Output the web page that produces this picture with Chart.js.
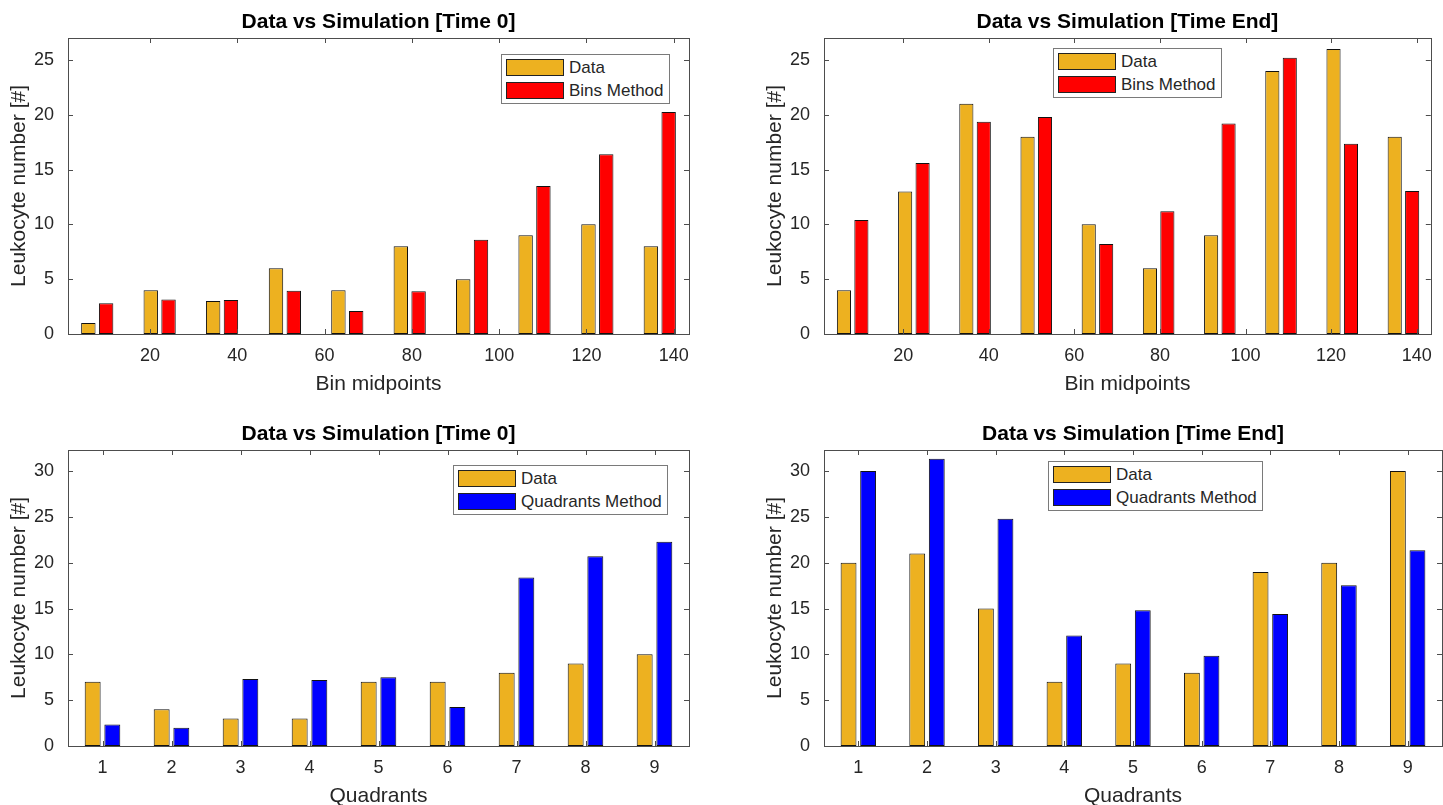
<!DOCTYPE html>
<html>
<head>
<meta charset="utf-8">
<title>Data vs Simulation</title>
<script src="https://cdn.jsdelivr.net/npm/chart.js@4.4.1/dist/chart.umd.min.js"></script>
<style>
  html, body { margin: 0; padding: 0; background: #fff; overflow: hidden; }
  #page { position: relative; width: 1443px; height: 805px; overflow: hidden; }
  canvas { position: absolute; }
  .legend { position: absolute; background: #fff; border: 1px solid #7a7a7a; padding: 4px 5px 4px 4px;
            font: 17px 'Liberation Sans', Arial, sans-serif; color: #262626; }
  .legend .row { display: flex; align-items: center; height: 17px; white-space: nowrap; }
  .legend .row + .row { margin-top: 6px; }
  .legend .swatch { width: 58px; height: 17px; box-sizing: border-box; border: 1px solid #222; margin-right: 5px; }
</style>
</head>
<body>
<div id="page"></div>
<script>
// Bin midpoints (the two time points use slightly different bins)
const binMidsT0 = [7.9, 22.2, 36.5, 50.9, 65.2, 79.5, 93.8, 108.1, 122.5, 136.8];
const binMidsEnd = [8.2, 22.5, 36.8, 51.1, 65.4, 79.7, 94.0, 108.3, 122.6, 136.9];
const binTicks = [20, 40, 60, 80, 100, 120, 140];

// Leukocyte counts per bin
const binDataT0 = [1, 4, 3, 6, 4, 8, 5, 9, 10, 8];
const binSimT0 = [2.8, 3.15, 3.1, 3.95, 2.1, 3.9, 8.6, 13.5, 16.4, 20.25];
const binDataEnd = [4, 13, 21, 18, 10, 6, 9, 24, 26, 18];
const binSimEnd = [10.4, 15.6, 19.35, 19.8, 8.2, 11.2, 19.2, 25.2, 17.35, 13.05];

// Leukocyte counts per quadrant
const quadrants = ['1', '2', '3', '4', '5', '6', '7', '8', '9'];
const quadDataT0 = [7, 4, 3, 3, 7, 7, 8, 9, 10];
const quadSimT0 = [2.35, 2.0, 7.3, 7.2, 7.5, 4.25, 18.4, 20.7, 22.3];
const quadDataEnd = [20, 21, 15, 7, 9, 8, 19, 20, 30];
const quadSimEnd = [30.0, 31.35, 24.8, 12.05, 14.8, 9.85, 14.4, 17.55, 21.35];

const binYTicks = [0, 5, 10, 15, 20, 25];
const quadYTicks = [0, 5, 10, 15, 20, 25, 30];

const FONT = "'Liberation Sans', Arial, Helvetica, sans-serif";
const TEXT = '#262626';
const AXIS = '#4d4d4d';
const DATA_COLOR = '#EDB120';
const EDGE = '#111111';
const TICK_LEN = 5;

// MATLAB-style box: full frame plus inward ticks on all four sides
const matlabBox = {
    id: 'matlabBox',
    afterDatasetsDraw(chart) {
        const { ctx, chartArea: a, scales } = chart;
        const x = scales.x, y = scales.y;
        ctx.save();
        ctx.strokeStyle = AXIS;
        ctx.lineWidth = 1;
        ctx.beginPath();
        x.ticks.forEach((t, i) => {
            const px = Math.round(x.getPixelForTick(i)) + 0.5;
            ctx.moveTo(px, a.bottom); ctx.lineTo(px, a.bottom - TICK_LEN);
            ctx.moveTo(px, a.top); ctx.lineTo(px, a.top + TICK_LEN);
        });
        y.ticks.forEach((t, i) => {
            const py = Math.round(y.getPixelForTick(i)) + 0.5;
            ctx.moveTo(a.left, py); ctx.lineTo(a.left + TICK_LEN, py);
            ctx.moveTo(a.right, py); ctx.lineTo(a.right - TICK_LEN, py);
        });
        ctx.stroke();
        ctx.strokeRect(Math.round(a.left) + 0.5, Math.round(a.top) + 0.5,
            Math.round(a.right - a.left), Math.round(a.bottom - a.top));
        ctx.restore();
    }
};

function toPoints(xs, ys) {
    return xs.map((x, i) => ({ x: x, y: ys[i] }));
}

const panels = [
    { left: 0, top: 0, width: 720, padRight: 31, title: 'Data vs Simulation [Time 0]',
      xTitle: 'Bin midpoints', mids: binMidsT0, data: binDataT0, sim: binSimT0,
      simLabel: 'Bins Method', simColor: '#FF0000', xMin: 1.2, xMax: 143.5,
      yMax: 27, yTicks: binYTicks, legendAt: [501, 54] },
    { left: 756, top: 0, width: 687, padRight: 1, title: 'Data vs Simulation [Time End]',
      xTitle: 'Bin midpoints', mids: binMidsEnd, data: binDataEnd, sim: binSimEnd,
      simLabel: 'Bins Method', simColor: '#FF0000', xMin: 1.5, xMax: 143.3,
      yMax: 27, yTicks: binYTicks, legendAt: [1053, 48] },
    { left: 0, top: 412, width: 720, padRight: 31, title: 'Data vs Simulation [Time 0]',
      xTitle: 'Quadrants', data: quadDataT0, sim: quadSimT0,
      simLabel: 'Quadrants Method', simColor: '#0000FF',
      yMax: 32.3, yTicks: quadYTicks, legendAt: [453, 465] },
    { left: 756, top: 412, width: 687, padRight: 1, title: 'Data vs Simulation [Time End]',
      xTitle: 'Quadrants', data: quadDataEnd, sim: quadSimEnd,
      simLabel: 'Quadrants Method', simColor: '#0000FF',
      yMax: 32.3, yTicks: quadYTicks, legendAt: [1048, 461] }
];

const page = document.getElementById('page');

panels.forEach(p => {
    const canvas = document.createElement('canvas');
    canvas.width = p.width;
    canvas.height = 400;
    canvas.style.left = p.left + 'px';
    canvas.style.top = p.top + 'px';
    page.appendChild(canvas);

    const isBins = !!p.mids;
    const barStyle = {
        borderColor: EDGE,
        borderWidth: 1,
        borderSkipped: false,
        categoryPercentage: 0.57,
        barPercentage: 0.81
    };

    const xScale = isBins ? {
        type: 'linear',
        min: p.xMin,
        max: p.xMax,
        offset: false,
        afterBuildTicks: s => { s.ticks = binTicks.map(v => ({ value: v })); }
    } : {
        type: 'category',
        offset: true
    };
    Object.assign(xScale, {
        grid: { display: false, drawTicks: false },
        border: { display: false },
        ticks: { font: { family: FONT, size: 18 }, color: TEXT, padding: 11, maxRotation: 0, autoSkip: false },
        title: { display: true, text: p.xTitle, font: { family: FONT, size: 21 }, color: TEXT,
                 padding: { top: 0, bottom: 3 } },
        afterFit: s => { s.height = 66; }
    });

    const chart = new Chart(canvas, {
        type: 'bar',
        data: {
            labels: isBins ? undefined : quadrants,
            datasets: [
                Object.assign({ label: 'Data', backgroundColor: DATA_COLOR,
                    data: isBins ? toPoints(p.mids, p.data) : p.data }, barStyle),
                Object.assign({ label: p.simLabel, backgroundColor: p.simColor,
                    data: isBins ? toPoints(p.mids, p.sim) : p.sim }, barStyle)
            ]
        },
        options: {
            responsive: false,
            animation: false,
            devicePixelRatio: 1,
            layout: { padding: { left: 0, right: p.padRight, top: 0, bottom: 0 } },
            scales: {
                x: xScale,
                y: {
                    type: 'linear',
                    min: 0,
                    max: p.yMax,
                    afterBuildTicks: s => { s.ticks = p.yTicks.map(v => ({ value: v })); },
                    grid: { display: false, drawTicks: false },
                    border: { display: false },
                    ticks: { font: { family: FONT, size: 18 }, color: TEXT, padding: 14 },
                    title: { display: true, text: 'Leukocyte number [#]', font: { family: FONT, size: 21 },
                             color: TEXT, padding: { top: 7, bottom: 0 } },
                    afterFit: s => { s.width = 68; }
                }
            },
            plugins: {
                legend: { display: false },
                tooltip: { enabled: false },
                title: {
                    display: true,
                    fullSize: false,
                    text: p.title,
                    color: '#000',
                    font: { family: FONT, size: 21, weight: 'bold' },
                    padding: { top: 10, bottom: 2.8 }
                }
            }
        },
        plugins: [matlabBox]
    });

    // HTML legend built from the chart's own datasets
    const legend = document.createElement('div');
    legend.className = 'legend';
    legend.style.left = p.legendAt[0] + 'px';
    legend.style.top = p.legendAt[1] + 'px';
    chart.data.datasets.forEach(ds => {
        const row = document.createElement('div');
        row.className = 'row';
        const sw = document.createElement('span');
        sw.className = 'swatch';
        sw.style.background = ds.backgroundColor;
        const label = document.createElement('span');
        label.textContent = ds.label;
        row.appendChild(sw);
        row.appendChild(label);
        legend.appendChild(row);
    });
    page.appendChild(legend);
});
</script>
</body>
</html>
